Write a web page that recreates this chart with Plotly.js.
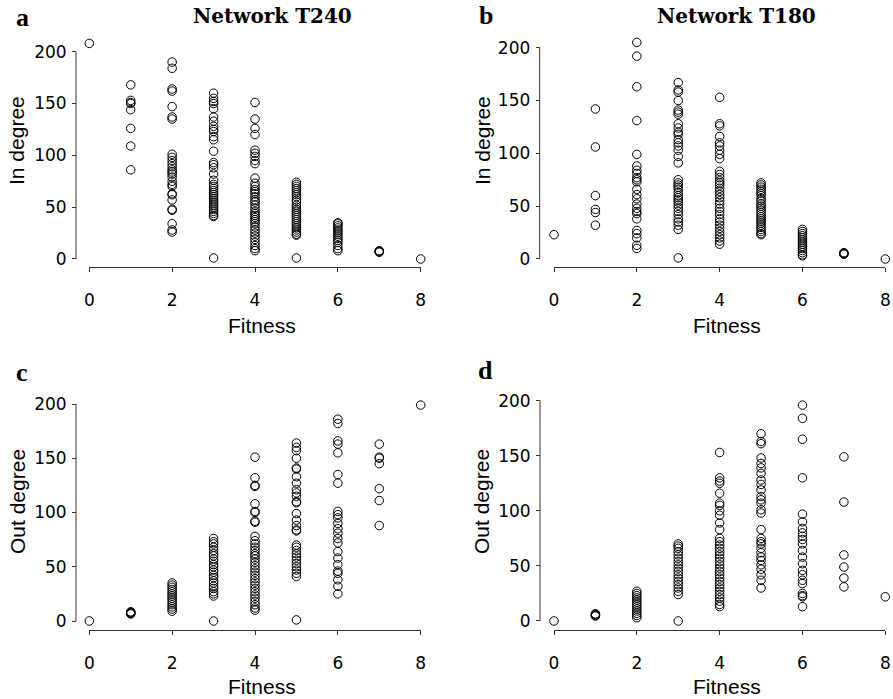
<!DOCTYPE html>
<html>
<head>
<meta charset="utf-8">
<script src="https://cdn.plot.ly/plotly-3.0.1.min.js"></script>
<style>html,body{margin:0;padding:0;background:#fff;}#chart{width:893px;height:699px;}</style>
</head>
<body>
<div id="chart"></div>
<script>
// Fitness levels (x categories)
const fitnessLevels = [0, 1, 2, 3, 4, 5, 6, 7, 8];
const panelTitles = ["Network T240", "Network T180"];
const panelLetters = ["a", "b", "c", "d"];
const yTitles = ["In degree", "In degree", "Out degree", "Out degree"];
const xTitle = "Fitness";
const xTickVals = [0, 2, 4, 6, 8];
const yTickVals = [0, 50, 100, 150, 200];

// In degree, network T240 (one list per fitness level)
const t240In = [
  [208],
  [168, 153, 151, 150, 144, 126, 109, 86],
  [190, 184, 164, 162, 147, 137, 135, 101, 98, 95, 92, 89, 86, 84, 82, 79, 75, 72, 70, 63, 62, 57, 48, 47, 34, 28, 26],
  [160, 155, 152, 150, 145, 137, 133, 128, 125, 123, 118, 115, 104, 93, 91, 88, 82, 76, 72, 70, 68, 66, 64, 62, 60, 58, 56, 54, 52, 50, 48, 46, 44, 42, 41, 1],
  [151, 135, 126, 120, 105, 102, 99, 95, 92, 78, 73, 70, 67, 65, 63, 60, 57, 55, 52, 49, 46, 44, 42, 40, 38, 36, 34, 31, 28, 25, 22, 19, 16, 13, 10, 8],
  [74, 72, 70, 68, 66, 64, 62, 60, 57, 55, 52, 50, 48, 46, 44, 42, 40, 38, 36, 34, 32, 30, 28, 26, 24, 23, 1],
  [35, 34, 32, 30, 28, 26, 24, 22, 20, 18, 16, 13, 10, 8],
  [8, 7.5, 7, 6.5],
  [0]
];

// In degree, network T180
const t180In = [
  [23],
  [142, 106, 60, 47, 44, 32],
  [205, 192, 163, 131, 99, 88, 84, 81, 77, 75, 73, 66, 61, 57, 52, 48, 45, 43, 38, 27, 24, 20, 13, 10],
  [167, 160, 158, 150, 141, 139, 137, 128, 124, 120, 118, 113, 110, 107, 103, 97, 91, 75, 72, 70, 68, 66, 63, 60, 58, 56, 54, 51, 48, 45, 42, 38, 35, 32, 28, 1],
  [153, 128, 126, 116, 110, 107, 103, 99, 95, 83, 80, 77, 74, 72, 70, 67, 64, 61, 58, 55, 52, 48, 45, 42, 38, 35, 32, 29, 26, 23, 20, 17, 14],
  [72, 70, 68, 66, 64, 62, 60, 57, 55, 52, 50, 48, 46, 44, 42, 40, 38, 36, 34, 32, 30, 28, 26, 24, 23],
  [28, 26, 24, 22, 20, 18, 16, 14, 12, 10, 8, 6, 4, 3],
  [6, 5.5, 5, 4.5],
  [0]
];

// Out degree, network T240
const t240Out = [
  [0],
  [8.5, 8, 7.5, 7, 6.5],
  [35, 33, 31, 29, 27, 25, 23, 21, 19, 17, 15, 13, 11, 9],
  [76, 73, 71, 68, 65, 62, 60, 57, 55, 52, 50, 47, 45, 42, 40, 37, 35, 32, 30, 27, 25, 23, 0],
  [151, 132, 125, 124, 108, 101, 100, 92, 91, 78, 74, 71, 68, 65, 62, 60, 57, 54, 51, 48, 45, 42, 39, 36, 33, 30, 27, 24, 21, 18, 15, 12, 10],
  [164, 160, 157, 150, 141, 140, 133, 127, 121, 118, 115, 110, 109, 99, 93, 88, 84, 83, 70, 68, 65, 62, 59, 56, 53, 50, 47, 44, 41, 1],
  [186, 182, 166, 163, 155, 135, 127, 101, 98, 95, 90, 85, 81, 76, 72, 64, 58, 52, 46, 44, 38, 32, 25],
  [163, 151, 150, 145, 122, 111, 88],
  [199]
];

// Out degree, network T180
const t180Out = [
  [0],
  [6.5, 6, 5.5, 5, 4.5],
  [27, 25, 23, 21, 19, 17, 15, 13, 11, 9, 7, 5, 3],
  [70, 68, 66, 63, 60, 57, 54, 51, 48, 45, 42, 39, 36, 33, 30, 27, 24, 0],
  [153, 130, 127, 125, 116, 107, 105, 100, 96, 89, 83, 75, 72, 69, 66, 63, 60, 57, 54, 51, 48, 45, 42, 39, 36, 33, 30, 27, 24, 21, 18, 15, 13],
  [170, 163, 161, 148, 143, 139, 134, 128, 124, 119, 113, 110, 107, 101, 98, 83, 75, 72, 70, 66, 62, 58, 55, 51, 47, 42, 37, 30],
  [196, 184, 165, 130, 97, 90, 84, 80, 77, 74, 70, 64, 58, 52, 46, 42, 37, 34, 25, 23, 22, 13],
  [149, 108, 60, 49, 39, 31],
  [22]
];

const W = 893, H = 699;
const px = v => v / W;
const py = v => 1 - v / H;
const yAxisTop = 200;   // axis line / ticks end here
const yRangeTop = 214;  // drawing range (room for points above 200)

// panel geometry in pixels: x0,x8 of x axis, y200,y0 of y axis, y-axis line x, x-axis line y
const geom = [
  {xl: 89.3, xr: 420.7, yt: 51.7, yb: 259, yax: 76, xax: 267},
  {xl: 554, xr: 885.3, yt: 47.7, yb: 259, yax: 539.7, xax: 267},
  {xl: 89.3, xr: 420.7, yt: 404, yb: 621, yax: 76, xax: 630},
  {xl: 554, xr: 885.3, yt: 400.7, yb: 621, yax: 540, xax: 630}
];
const panelData = [t240In, t180In, t240Out, t180Out];

const traces = [];
const layout = {
  width: W, height: H,
  margin: {l: 0, r: 0, t: 0, b: 0, pad: 0},
  paper_bgcolor: '#fff', plot_bgcolor: 'rgba(0,0,0,0)',
  showlegend: false,
  annotations: [],
  shapes: []
};

panelData.forEach((cols, i) => {
  const xs = [], ys = [];
  cols.forEach((vals, k) => vals.forEach(v => { xs.push(fitnessLevels[k]); ys.push(v); }));
  const sfx = i === 0 ? '' : String(i + 1);
  traces.push({
    type: 'scatter', mode: 'markers', x: xs, y: ys,
    xaxis: 'x' + sfx, yaxis: 'y' + sfx,
    cliponaxis: false, hoverinfo: 'skip',
    marker: {symbol: 'circle-open', size: 8.5, color: '#000', line: {width: 1, color: '#000'}}
  });
  const g = geom[i];
  const pxPerUnit = (g.yb - g.yt) / yAxisTop;
  const topPx = g.yb - yRangeTop * pxPerUnit;
  const axCommon = {
    showgrid: false, zeroline: false, linecolor: '#333', linewidth: 1,
    ticks: 'outside', ticklen: 4, tickcolor: '#333', tickwidth: 1,
    tickfont: {family: 'DejaVu Sans', size: 17, color: '#000'}, fixedrange: true
  };
  layout['xaxis' + sfx] = Object.assign({}, axCommon, {
    showline: true,
    domain: [px(g.xl), px(g.xr)], range: [0, 8], tickvals: xTickVals,
    anchor: 'free', position: py(g.xax), ticklabelstandoff: 14
  });
  layout['yaxis' + sfx] = Object.assign({}, axCommon, {
    showline: false,
    domain: [py(g.yb), py(topPx)], range: [0, yRangeTop], tickvals: yTickVals,
    anchor: 'free', position: px(g.yax), ticklabelstandoff: 2
  });
  // y axis line from 0 to 200 only
  layout.shapes.push({
    type: 'line', xref: 'paper', yref: 'y' + sfx,
    x0: px(g.yax), x1: px(g.yax), y0: 0, y1: yAxisTop,
    line: {color: '#333', width: 1}
  });
});

// text positions (pixels)
const yTitlePos = [[17, 141], [483, 141], [17, 502], [481, 501]];
const xTitlePos = [[262, 325], [727, 325], [262, 686], [727, 686]];
const letterPos = [[22, 17], [486, 16], [22, 372], [486, 370]];
const titlePos = [[272, 16], [736, 16]];

const ann = (text, x, y, font, extra) => Object.assign({
  text, x: px(x), y: py(y), xref: 'paper', yref: 'paper',
  xanchor: 'center', yanchor: 'middle', showarrow: false, font
}, extra || {});

for (let i = 0; i < 4; i++) {
  layout.annotations.push(ann(yTitles[i], yTitlePos[i][0], yTitlePos[i][1],
    {family: 'Liberation Sans', size: 21, color: '#000'}, {textangle: -90}));
  layout.annotations.push(ann(xTitle, xTitlePos[i][0], xTitlePos[i][1],
    {family: 'Liberation Sans', size: 21, color: '#000'}));
  layout.annotations.push(ann('<b>' + panelLetters[i] + '</b>', letterPos[i][0], letterPos[i][1],
    {family: 'Liberation Serif', size: 26, color: '#000'}));
}
for (let i = 0; i < 2; i++) {
  layout.annotations.push(ann('<b>' + panelTitles[i] + '</b>', titlePos[i][0], titlePos[i][1],
    {family: 'DejaVu Serif', size: 20, color: '#000'}));
}

Plotly.newPlot('chart', traces, layout, {staticPlot: true, displayModeBar: false});
</script>
</body>
</html>
